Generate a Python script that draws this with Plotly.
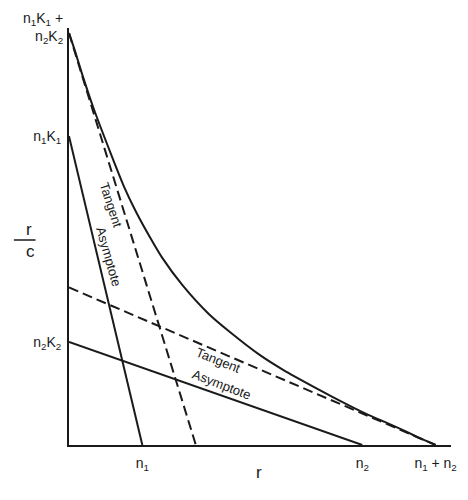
import plotly.graph_objects as go

# Scatchard plot values (units: r along x, r/c along y)
asym1_r = [0, 1.0]
asym1_y = [3.0, 0]
asym2_r = [0, 4.0]
asym2_y = [1.0, 0]
tan1_r = [0, 1.73]
tan1_y = [4.0, 0]
tan2_r = [0, 5.0]
tan2_y = [1.53, 0]
curve_r = [0, 0.08, 0.18, 0.33, 0.57, 0.75, 0.91, 1.11, 1.27, 1.55, 1.91, 2.19,
           2.61, 2.92, 3.35, 3.83, 4.09, 4.32, 4.63, 4.74, 4.84, 5.0]
curve_y = [4.0, 3.83, 3.60, 3.28, 2.83, 2.51, 2.27, 2.01, 1.82, 1.55, 1.27, 1.10,
           0.87, 0.73, 0.56, 0.38, 0.29, 0.22, 0.12, 0.08, 0.05, 0.0]

x_tickvals = [1, 4, 5]
x_ticktext = ["n<sub>1</sub>", "n<sub>2</sub>", "n<sub>1</sub> + n<sub>2</sub>"]
y_tickvals = [1, 3]
y_ticktext = ["n<sub>2</sub>K<sub>2</sub>", "n<sub>1</sub>K<sub>1</sub>"]
top_label = "n<sub>1</sub>K<sub>1</sub> +<br>n<sub>2</sub>K<sub>2</sub>"
top_value = 4.0

INK = "#1a1a1a"
FONT = "Liberation Sans, Arial, sans-serif"

fig = go.Figure()
solid = dict(color=INK, width=2)
dashed = dict(color=INK, width=2, dash="10px,5px")

fig.add_trace(go.Scatter(x=asym1_r, y=asym1_y, mode="lines", line=solid))
fig.add_trace(go.Scatter(x=asym2_r, y=asym2_y, mode="lines", line=solid))
fig.add_trace(go.Scatter(x=tan1_r, y=tan1_y, mode="lines", line=dashed))
fig.add_trace(go.Scatter(x=tan2_r, y=tan2_y, mode="lines", line=dashed))
fig.add_trace(go.Scatter(x=curve_r, y=curve_y, mode="lines",
                         line=dict(color=INK, width=2, shape="spline", smoothing=0.6)))

lab = dict(showarrow=False, font=dict(family=FONT, size=13, color=INK),
           xref="x", yref="y")
fig.add_annotation(text="Tangent", x=0.58, y=2.33, textangle=72, **lab)
fig.add_annotation(text="Asymptote", x=0.54, y=1.83, textangle=74, **lab)
fig.add_annotation(text="Tangent", x=2.04, y=0.82, textangle=22, **lab)
fig.add_annotation(text="Asymptote", x=2.08, y=0.59, textangle=21, **lab)

# top y label (two lines)
fig.add_annotation(text=top_label, x=0, xref="paper", xanchor="right", xshift=-4,
                   y=top_value, yref="y", yshift=5, align="right", showarrow=False,
                   font=dict(family=FONT, size=14, color=INK))

pw = 468 - 69 - 11
ph = 500 - 28 - 55
def px_to_paper(px, py):
    return (px - 69) / pw, (445 - py) / ph

big = dict(family=FONT, size=17, color=INK)
fx, fy = px_to_paper(23, 229)
fig.add_annotation(text="r", x=fx, y=fy, xref="paper", yref="paper", showarrow=False, font=big)
fx, fy = px_to_paper(23, 251)
fig.add_annotation(text="c", x=fx, y=fy, xref="paper", yref="paper", showarrow=False, font=big)
x0, ly = px_to_paper(13, 240)
x1, _ = px_to_paper(35, 240)
fig.add_shape(type="line", x0=x0, x1=x1, y0=ly, y1=ly, xref="paper", yref="paper",
              line=dict(color=INK, width=1.5))
fx, fy = px_to_paper(262, 484)
fig.add_annotation(text="r", x=fx, y=fy, xref="paper", yref="paper", showarrow=False, font=big)

fig.update_layout(
    width=468, height=500,
    margin=dict(l=69, r=11, t=28, b=55),
    paper_bgcolor="white", plot_bgcolor="white",
    showlegend=False,
    font=dict(family=FONT, size=14, color=INK),
)
fig.update_xaxes(range=[0, 5.21], showgrid=False, zeroline=False, showline=True,
                 linecolor=INK, linewidth=2, tickvals=x_tickvals, ticktext=x_ticktext,
                 ticks="", ticklabelstandoff=4, tickfont=dict(size=14))
fig.update_yaxes(range=[0, 4.05], showgrid=False, zeroline=False, showline=True,
                 linecolor=INK, linewidth=2, tickvals=y_tickvals, ticktext=y_ticktext,
                 ticks="", ticklabelstandoff=3, tickfont=dict(size=14))

fig.write_html("out.html", config={"displayModeBar": False},
               post_script="document.body.style.margin='0';document.body.style.overflow='hidden';")
